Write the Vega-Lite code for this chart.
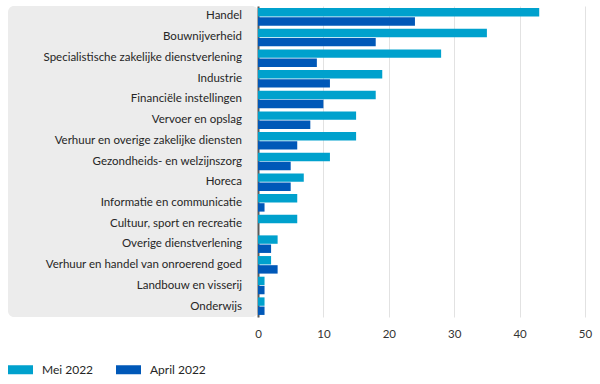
{
  "$schema": "https://vega.github.io/schema/vega-lite/v6.json",
  "padding": {"left": 8, "top": 6, "right": 15, "bottom": 0},
  "background": "white",
  "spacing": 0,
  "bounds": "flush",
  "config": {
    "view": {"stroke": null},
    "font": "Lato"
  },
  "data": {
    "values": [
      {"sector": "Handel", "periode": "Mei 2022", "aantal": 43},
      {"sector": "Handel", "periode": "April 2022", "aantal": 24},
      {"sector": "Bouwnijverheid", "periode": "Mei 2022", "aantal": 35},
      {"sector": "Bouwnijverheid", "periode": "April 2022", "aantal": 18},
      {"sector": "Specialistische zakelijke dienstverlening", "periode": "Mei 2022", "aantal": 28},
      {"sector": "Specialistische zakelijke dienstverlening", "periode": "April 2022", "aantal": 9},
      {"sector": "Industrie", "periode": "Mei 2022", "aantal": 19},
      {"sector": "Industrie", "periode": "April 2022", "aantal": 11},
      {"sector": "Financiële instellingen", "periode": "Mei 2022", "aantal": 18},
      {"sector": "Financiële instellingen", "periode": "April 2022", "aantal": 10},
      {"sector": "Vervoer en opslag", "periode": "Mei 2022", "aantal": 15},
      {"sector": "Vervoer en opslag", "periode": "April 2022", "aantal": 8},
      {"sector": "Verhuur en overige zakelijke diensten", "periode": "Mei 2022", "aantal": 15},
      {"sector": "Verhuur en overige zakelijke diensten", "periode": "April 2022", "aantal": 6},
      {"sector": "Gezondheids- en welzijnszorg", "periode": "Mei 2022", "aantal": 11},
      {"sector": "Gezondheids- en welzijnszorg", "periode": "April 2022", "aantal": 5},
      {"sector": "Horeca", "periode": "Mei 2022", "aantal": 7},
      {"sector": "Horeca", "periode": "April 2022", "aantal": 5},
      {"sector": "Informatie en communicatie", "periode": "Mei 2022", "aantal": 6},
      {"sector": "Informatie en communicatie", "periode": "April 2022", "aantal": 1},
      {"sector": "Cultuur, sport en recreatie", "periode": "Mei 2022", "aantal": 6},
      {"sector": "Cultuur, sport en recreatie", "periode": "April 2022", "aantal": 0},
      {"sector": "Overige dienstverlening", "periode": "Mei 2022", "aantal": 3},
      {"sector": "Overige dienstverlening", "periode": "April 2022", "aantal": 2},
      {"sector": "Verhuur en handel van onroerend goed", "periode": "Mei 2022", "aantal": 2},
      {"sector": "Verhuur en handel van onroerend goed", "periode": "April 2022", "aantal": 3},
      {"sector": "Landbouw en visserij", "periode": "Mei 2022", "aantal": 1},
      {"sector": "Landbouw en visserij", "periode": "April 2022", "aantal": 1},
      {"sector": "Onderwijs", "periode": "Mei 2022", "aantal": 1},
      {"sector": "Onderwijs", "periode": "April 2022", "aantal": 1}
    ]
  },
  "hconcat": [
    {
      "width": 250,
      "height": 311,
      "view": {"fill": "#ececec", "cornerRadius": 6, "stroke": null},
      "transform": [{"filter": "datum.periode === 'Mei 2022'"}],
      "mark": {"type": "text", "align": "right", "baseline": "middle", "dx": -16, "fontSize": 11.5, "color": "#262626", "font": "Lato"},
      "encoding": {
        "x": {"value": "width"},
        "y": {
          "field": "sector",
          "type": "nominal",
          "sort": null,
          "scale": {"paddingInner": 0.15, "paddingOuter": 0.1},
          "axis": null
        },
        "text": {"field": "sector"}
      }
    },
    {
      "width": 327,
      "height": 311,
      "mark": {"type": "bar"},
      "encoding": {
        "x": {
          "field": "aantal",
          "type": "quantitative",
          "scale": {"domain": [0, 50], "nice": false},
          "axis": {
            "title": null,
            "values": [0, 10, 20, 30, 40, 50],
            "domain": false,
            "ticks": false,
            "grid": true,
            "gridColor": "#e2e2e2",
            "gridWidth": 1,
            "labelFlush": false,
            "labelFontSize": 11.5,
            "labelColor": "#333333",
            "labelPadding": 11,
            "labelFont": "Lato"
          }
        },
        "y": {
          "field": "sector",
          "type": "nominal",
          "sort": null,
          "scale": {"paddingInner": 0.15, "paddingOuter": 0.1},
          "axis": {
            "title": null,
            "labels": false,
            "ticks": false,
            "grid": false,
            "domain": true,
            "domainColor": "#5a5a5a",
            "domainWidth": 2
          }
        },
        "yOffset": {
          "field": "periode",
          "type": "nominal",
          "sort": "descending",
          "scale": {"paddingInner": 0.08}
        },
        "color": {
          "field": "periode",
          "type": "nominal",
          "scale": {"domain": ["Mei 2022", "April 2022"], "range": ["#00a1cd", "#0058b8"]},
          "legend": {
            "title": null,
            "orient": "none",
            "direction": "horizontal",
            "legendX": 0,
            "legendY": 351,
            "symbolType": "M-1,-0.36H1V0.36H-1Z",
            "symbolSize": 625,
            "symbolStrokeWidth": 0,
            "labelFontSize": 12,
            "labelColor": "#262626",
            "labelFont": "Lato",
            "labelOffset": 9,
            "columnPadding": 22
          }
        }
      }
    }
  ]
}
